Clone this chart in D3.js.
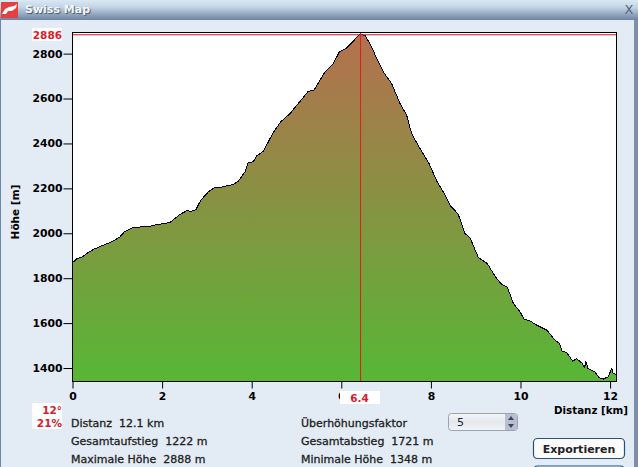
<!DOCTYPE html>
<html lang="de">
<head>
<meta charset="utf-8"/>
<title>Swiss Map</title>
<script src="https://d3js.org/d3.v7.min.js"></script>
<style>
  html, body { margin: 0; padding: 0; background: #e3ebf4; overflow: hidden; }
  svg { display: block; }
  text { font-family: "DejaVu Sans", sans-serif; }
  .tick text { font-size: 10.8px; font-weight: bold; fill: #000; }
  .info { font-size: 11px; fill: #222; stroke: #222; stroke-width: 0.3; }
  .red { fill: #d8202a; font-weight: bold; }
  .title { text-shadow: 1px 1px 1px #44566e; }
</style>
</head>
<body>
<svg id="chart" width="638" height="467"></svg>
<script>
  const distKm = [0, .107, .205, .317, .464, .652, .875, 1.06, 1.15, 1.357, 1.692, 1.842, 2.176, 2.4, 2.549, 2.66, 2.757, 2.862, 3.03, 3.18, 3.33, 3.589, 3.7, 3.85, 3.924, 4.036, 4.11, 4.26, 4.41, 4.5, 4.647, 4.855, 5.04, 5.263, 5.39, 5.636, 5.82, 5.955, 6.105, 6.268, 6.38, 6.43, 6.53, 6.68, 6.79, 6.94, 7.125, 7.31, 7.46, 7.57, 7.757, 7.96, 8.14, 8.277, 8.426, 8.61, 8.76, 8.87, 9.06, 9.26, 9.43, 9.58, 9.705, 9.84, 9.99, 10.08, 10.21, 10.36, 10.585, 10.77, 10.866, 10.93, 11.03, 11.165, 11.254, 11.366, 11.43, 11.46, 11.506, 11.66, 11.76, 11.85, 11.96, 12.035, 12.07, 12.13];
  const heightM = [1869, 1888, 1892, 1910, 1928, 1944, 1962, 1984, 2005, 2026, 2030, 2037, 2048, 2084, 2100, 2098, 2106, 2147, 2184, 2204, 2206, 2217, 2232, 2273, 2315, 2318, 2344, 2365, 2422, 2454, 2496, 2533, 2578, 2632, 2637, 2718, 2755, 2807, 2822, 2855, 2881, 2886, 2881, 2829, 2778, 2718, 2666, 2578, 2525, 2444, 2377, 2310, 2229, 2184, 2125, 2085, 1999, 1981, 1892, 1865, 1809, 1772, 1761, 1688, 1650, 1618, 1610, 1591, 1569, 1524, 1510, 1475, 1469, 1431, 1441, 1423, 1403, 1428, 1398, 1383, 1356, 1351, 1361, 1398, 1376, 1372];
  const xTicks = [0, 2, 4, 6, 8, 10, 12];
  const yTicks = [1400, 1600, 1800, 2000, 2200, 2400, 2600, 2800];
  const markKm = 6.43;
  const markM = 2886;
  const infoLeft = ["Distanz  12.1 km", "Gesamtaufstieg  1222 m", "Maximale Höhe  2888 m"];
  const infoRight = ["Überhöhungsfaktor", "Gesamtabstieg  1721 m", "Minimale Höhe  1348 m"];

  const plot = {left: 72.5, right: 616.5, top: 32.5, bottom: 381.5};
  const svg = d3.select("#chart");
  const defs = svg.append("defs");

  // window chrome
  const bar = defs.append("linearGradient").attr("id", "bar").attr("x2", 0).attr("y2", 1);
  bar.append("stop").attr("offset", 0).attr("stop-color", "#d8e8f4");
  bar.append("stop").attr("offset", 0.35).attr("stop-color", "#c4d6e6");
  bar.append("stop").attr("offset", 1).attr("stop-color", "#6c83a2");
  svg.append("rect").attr("width", 638).attr("height", 20).attr("fill", "url(#bar)");
  svg.append("rect").attr("y", 20).attr("width", 1).attr("height", 447).attr("fill", "#6f87a6");
  svg.append("rect").attr("x", 634).attr("y", 20).attr("width", 4).attr("height", 447).attr("fill", "#7c90ac");

  svg.append("rect").attr("x", 1).attr("y", 2).attr("width", 17).attr("height", 16).attr("fill", "#e2413f");
  svg.append("path").attr("fill", "#fff")
    .attr("d", "M2 14 L5 9 L9 7 L14 6 L17 4 L16 8 L12 11 L8 11 L6 14 Z");
  svg.append("text").attr("class", "title").attr("x", 25).attr("y", 13).attr("font-size", 11).attr("font-weight", "bold")
    .attr("fill", "#f2f6fa").text("Swiss Map");
  svg.append("text").attr("x", 629).attr("y", 13.5).attr("text-anchor", "middle").attr("font-size", 13)
    .attr("fill", "#55677f").text("X");

  // scales
  const x = d3.scaleLinear().domain([0, 12.143]).range([plot.left, plot.right]);
  const y = d3.scaleLinear().domain([1340, 2894]).range([plot.bottom, plot.top]);

  const fillGrad = defs.append("linearGradient").attr("id", "fillGrad")
    .attr("gradientUnits", "userSpaceOnUse")
    .attr("x1", 0).attr("x2", 0).attr("y1", y(2886)).attr("y2", y(1400));
  fillGrad.append("stop").attr("offset", 0).attr("stop-color", "#b5704f");
  fillGrad.append("stop").attr("offset", 1).attr("stop-color", "#5ab436");

  svg.append("rect").attr("x", plot.left).attr("y", plot.top)
    .attr("width", plot.right - plot.left).attr("height", plot.bottom - plot.top).attr("fill", "#fff");

  const profile = distKm.map((d, i) => [d, heightM[i]]);
  const area = d3.area().x(d => x(d[0])).y0(plot.bottom).y1(d => y(d[1]));
  const line = d3.line().x(d => x(d[0])).y(d => y(d[1]));

  svg.append("path").datum(profile).attr("d", area).attr("fill", "url(#fillGrad)");
  svg.append("path").datum(profile).attr("d", line).attr("fill", "none")
    .attr("stroke", "#000").attr("stroke-width", 1).attr("shape-rendering", "crispEdges");

  // marker lines
  svg.append("line").attr("x1", plot.left).attr("x2", plot.right).attr("y1", y(markM) + 0.5).attr("y2", y(markM) + 0.5)
    .attr("stroke", "#c8141e").attr("stroke-width", 1);
  svg.append("line").attr("x1", x(markKm)).attr("x2", x(markKm)).attr("y1", plot.top).attr("y2", plot.bottom)
    .attr("stroke", "#d2241c").attr("stroke-width", 1);

  svg.append("rect").attr("x", plot.left).attr("y", plot.top)
    .attr("width", plot.right - plot.left).attr("height", plot.bottom - plot.top)
    .attr("fill", "none").attr("stroke", "#000").attr("stroke-width", 1);

  // axes
  const xAxis = svg.append("g").attr("transform", "translate(0," + plot.bottom + ")")
    .call(d3.axisBottom(x).tickValues(xTicks).tickSize(7).tickPadding(4).tickFormat(d3.format("d")));
  const yAxis = svg.append("g").attr("transform", "translate(" + plot.left + ",0)")
    .call(d3.axisLeft(y).tickValues(yTicks).tickSize(9).tickPadding(1).tickFormat(d3.format("d")));
  xAxis.select(".domain").remove();
  yAxis.select(".domain").remove();

  svg.append("text").attr("transform", "translate(19,212) rotate(-90)").attr("text-anchor", "middle")
    .attr("font-size", 10.5).attr("font-weight", "bold").text("Höhe [m]");
  svg.append("text").attr("x", 628).attr("y", 414).attr("text-anchor", "end")
    .attr("font-size", 10.3).attr("font-weight", "bold").text("Distanz [km]");

  // red read-outs
  svg.append("rect").attr("x", 32).attr("y", 28).attr("width", 30).attr("height", 13).attr("fill", "#fff");
  svg.append("text").attr("class", "red").attr("x", 62).attr("y", 39).attr("text-anchor", "end")
    .attr("font-size", 10.5).text(markM);
  svg.append("rect").attr("x", 32).attr("y", 403).attr("width", 30).attr("height", 26).attr("fill", "#fff");
  svg.append("text").attr("class", "red").attr("x", 62).attr("y", 414).attr("text-anchor", "end")
    .attr("font-size", 10.5).text("12°");
  svg.append("text").attr("class", "red").attr("x", 62).attr("y", 427).attr("text-anchor", "end")
    .attr("font-size", 10.5).text("21%");
  svg.append("rect").attr("x", 340).attr("y", 391).attr("width", 40).attr("height", 13).attr("fill", "#fff");
  svg.append("text").attr("class", "red").attr("x", 359.5).attr("y", 402).attr("text-anchor", "middle")
    .attr("font-size", 10.5).text(d3.format(".1f")(markKm));

  // info block
  const rowY = [427, 445, 463];
  infoLeft.forEach((t, i) => {
    svg.append("text").attr("class", "info").attr("x", 71).attr("y", rowY[i]).attr("xml:space", "preserve").text(t);
  });
  infoRight.forEach((t, i) => {
    svg.append("text").attr("class", "info").attr("x", 301).attr("y", rowY[i]).attr("xml:space", "preserve").text(t);
  });

  // spinner
  const spin = defs.append("linearGradient").attr("id", "spin").attr("x2", 0).attr("y2", 1);
  spin.append("stop").attr("offset", 0).attr("stop-color", "#f4f6f8");
  spin.append("stop").attr("offset", 0.5).attr("stop-color", "#e4e8ec");
  spin.append("stop").attr("offset", 1).attr("stop-color", "#f2f4f6");
  svg.append("rect").attr("x", 448.5).attr("y", 413.5).attr("width", 69).attr("height", 17).attr("rx", 3)
    .attr("fill", "url(#spin)").attr("stroke", "#9aa4b0");
  svg.append("rect").attr("x", 505).attr("y", 414).attr("width", 12).attr("height", 16).attr("fill", "#b9bfd0");
  svg.append("path").attr("d", "M511 416 L514 420 L508 420 Z M511 428 L514 424 L508 424 Z").attr("fill", "#3c4658");
  svg.append("text").attr("x", 457).attr("y", 426).attr("font-size", 11).attr("fill", "#223").text("5");

  // buttons
  svg.append("rect").attr("x", 533.5).attr("y", 438.5).attr("width", 91).attr("height", 20).attr("rx", 4)
    .attr("fill", "#fbfbfb").attr("stroke", "#2c4f74").attr("stroke-width", 1.2);
  svg.append("text").attr("x", 579).attr("y", 452.5).attr("text-anchor", "middle")
    .attr("font-size", 11).attr("font-weight", "bold").attr("fill", "#222").text("Exportieren");
  svg.append("rect").attr("x", 533.5).attr("y", 466).attr("width", 91).attr("height", 8).attr("rx", 4)
    .attr("fill", "#fbfbfb").attr("stroke", "#2c4f74").attr("stroke-width", 1.2);
</script>
</body>
</html>
